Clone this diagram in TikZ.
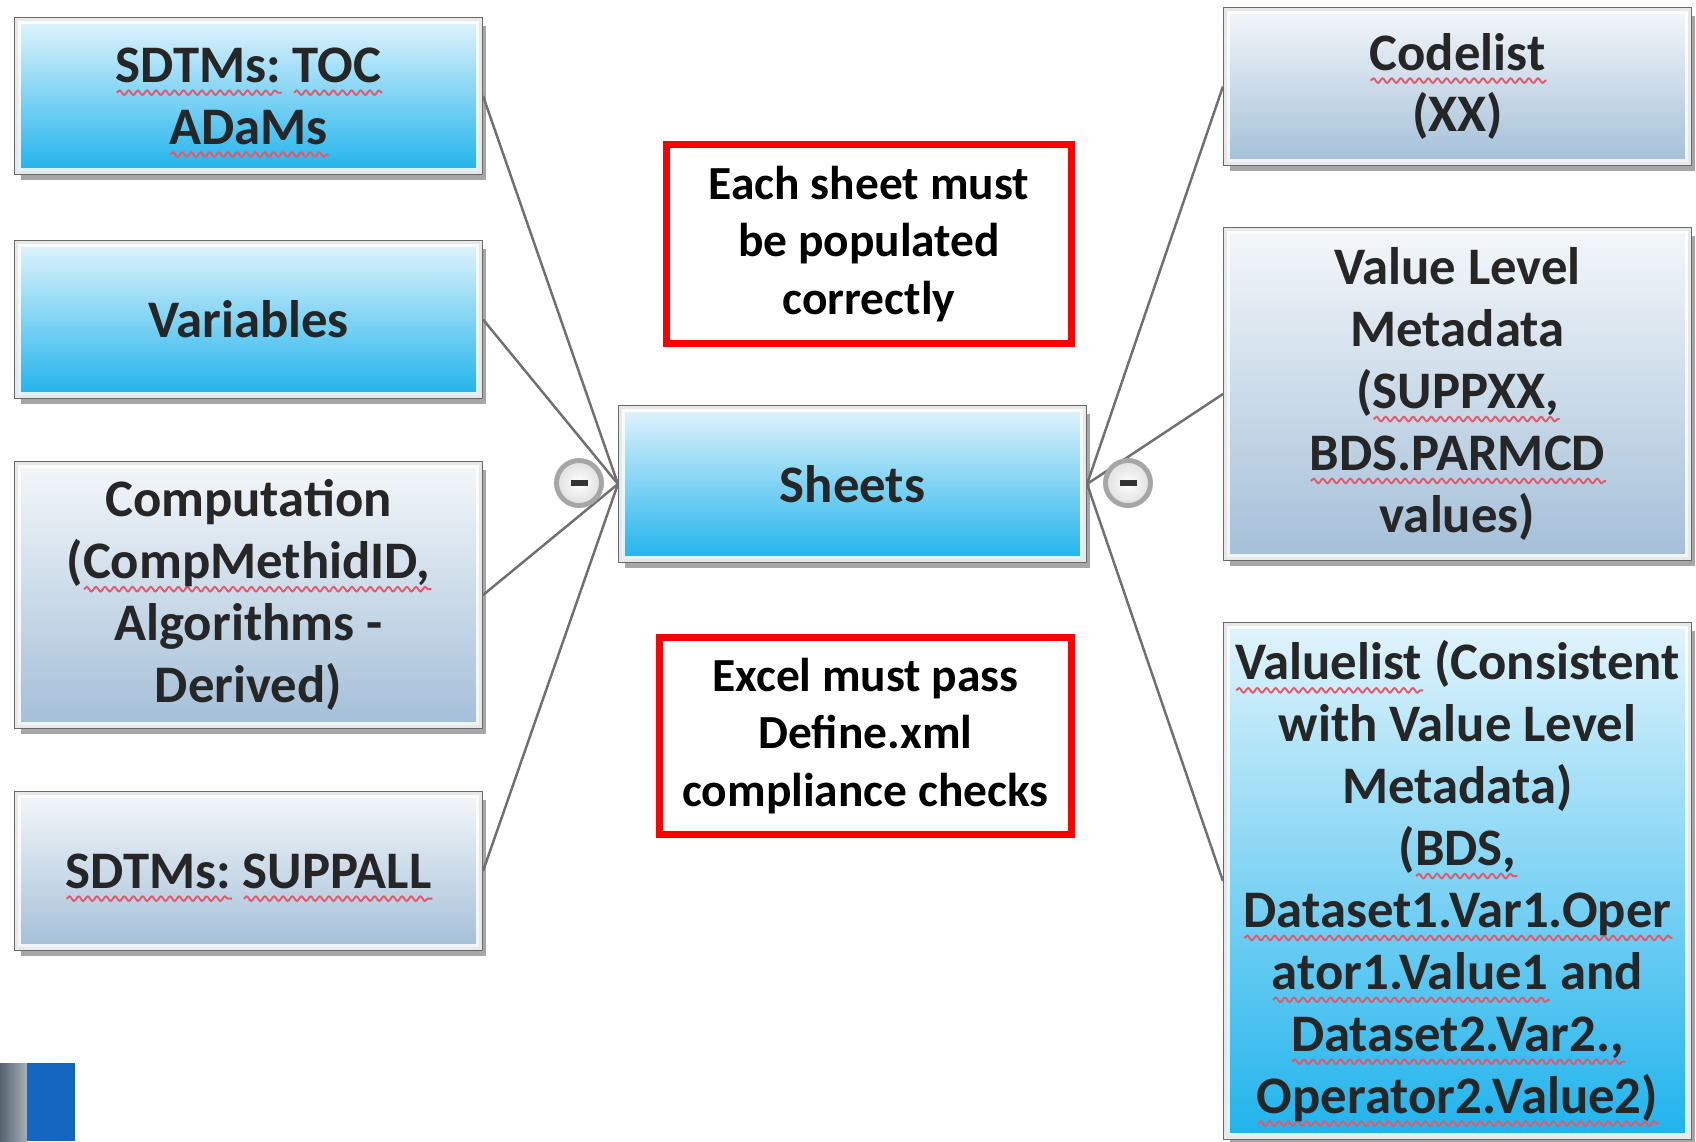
\documentclass[tikz,border=0pt]{standalone}
\usepackage{fontspec}
\setmainfont{Carlito}
\frenchspacing
\usetikzlibrary{shadows,decorations.pathmorphing}

\definecolor{lineg}{HTML}{707070}
\definecolor{boxedge}{HTML}{6A6A6A}
\definecolor{bluetop}{HTML}{E2F4FC}
\definecolor{bluebot}{HTML}{1EB3EC}
\definecolor{greytop}{HTML}{F4F7FA}
\definecolor{greybot}{HTML}{A3BFD8}
\definecolor{sqred}{HTML}{E05A6E}
\definecolor{txt}{HTML}{262626}
\definecolor{logoblue}{HTML}{1566C0}
\definecolor{logogreyA}{HTML}{56626D}
\definecolor{logogreyB}{HTML}{A3AFB9}

\newlength\sqlen
\newcommand\sq[1]{\settowidth\sqlen{#1}\makebox[0pt][l]{\smash{\tikz[baseline=0pt]\draw[sqline] (0pt,-0.2em) -- (\sqlen,-0.2em);}}#1}

\tikzset{
  sqline/.style={draw=sqred, line width=0.55pt, decorate,
    decoration={snake, amplitude=0.65pt, segment length=2.6pt}},
  mapbox/.style={draw=boxedge, line width=1.1pt, minimum width=4.65cm,
    inner sep=0pt, align=center, text=txt,
    font=\bfseries\fontsize{15pt}{17.6pt}\selectfont,
    drop shadow={shadow xshift=0.05cm, shadow yshift=-0.07cm, opacity=0.35, fill=black}},
  bluebox/.style={mapbox, top color=bluetop, bottom color=bluebot},
  greybox/.style={mapbox, top color=greytop, bottom color=greybot},
  inset/.style={draw=white, line width=1.6pt, opacity=0.85},
  redbox/.style={draw=red, line width=2pt, fill=white, align=center,
    inner sep=0pt, text=black,
    font=\bfseries\fontsize{13.5pt}{16.4pt}\selectfont},
  link/.style={draw=lineg, line width=0.7pt},
  minus/.style={circle, minimum size=0.45cm, inner sep=0pt, draw=gray!70,
    line width=1.4pt, inner color=white, outer color=gray!25}
}

\begin{document}
\begin{tikzpicture}[x=0.01cm, y=-0.01cm]
\useasboundingbox (0,0) rectangle (1696,1141);

% left boxes
\node[bluebox, minimum height=1.54cm] (b1) at (248.5,96)
  {\sq{SDTMs:} \sq{TOC}\\\sq{ADaMs}};
\node[bluebox, minimum height=1.55cm] (b2) at (248.5,319.5) {Variables};
\node[greybox, minimum height=2.64cm] (b3) at (248.5,595)
  {Computation\\(\sq{CompMethidID,}\\Algorithms -\\Derived)};
\node[greybox, minimum height=1.56cm] (b4) at (248.5,871)
  {\sq{SDTMs:} \sq{SUPPALL}};

% centre
\node[bluebox, minimum height=1.54cm] (sheets) at (852.5,484) {Sheets};

% right boxes
\node[greybox, minimum height=1.55cm] (code) at (1457.5,86.5)
  {\sq{Codelist}\\(XX)};
\node[greybox, minimum height=3.30cm] (vlm) at (1457.5,394)
  {Value Level\\Metadata\\(\sq{SUPPXX,}\\\sq{BDS.PARMCD}\\values)};
\node[bluebox, minimum height=5.14cm] (vl) at (1457.5,881)
  {\sq{Valuelist} (Consistent\\with Value Level\\Metadata)\\(\sq{BDS,}\\\sq{Dataset1.Var1.Oper}\\\sq{ator1.Value1} and\\\sq{Dataset2.Var2.,}\\\sq{Operator2.Value2)}};

% inner white frames
\foreach \n in {b1,b2,b3,b4,sheets,code,vlm,vl}
  \draw[inset] ([shift={(4,4)}]\n.north west) rectangle ([shift={(-4,-4)}]\n.south east);

% red note boxes
\node[redbox, minimum width=4.04cm, minimum height=1.98cm] (r1) at (869,244)
  {Each sheet must\\be populated\\correctly};
\node[redbox, minimum width=4.11cm, minimum height=1.96cm] (r2) at (865.5,736)
  {Excel must pass\\Define.xml\\compliance checks};

% connectors
\foreach \n in {b1,b2,b3,b4}
  \draw[link] (\n.east) -- (sheets.west);
\foreach \n in {code,vlm,vl}
  \draw[link] (sheets.east) -- (\n.west);

% collapse buttons
\node[minus] (ml) at (579,483) {\color{black!80}\rule{0.17cm}{0.065cm}};
\node[minus] (mr) at (1128,483) {\color{black!80}\rule{0.17cm}{0.065cm}};

% logo fragment
\fill[left color=logogreyA, right color=logogreyB] (0,1063) rectangle (27,1141);
\fill[logoblue] (27,1063) rectangle (75,1141);
\end{tikzpicture}
\end{document}
